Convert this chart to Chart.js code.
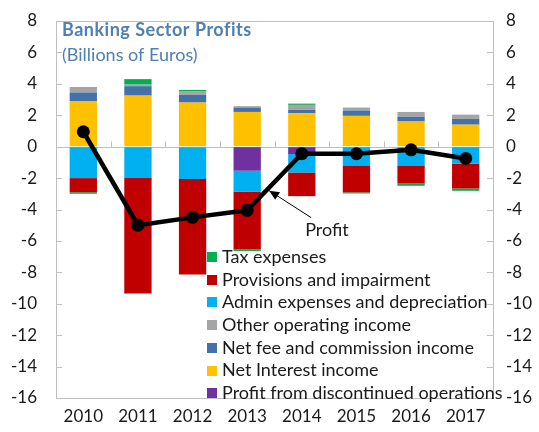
<!DOCTYPE html>
<html>
<head>
<meta charset="utf-8">
<script src="https://cdn.jsdelivr.net/npm/chart.js@4.4.1/dist/chart.umd.min.js"></script>
<style>
  html, body { margin: 0; padding: 0; background: #fff; }
  #wrap { position: relative; width: 539px; height: 432px; }
</style>
</head>
<body>
<div id="wrap"><canvas id="chart" width="539" height="432"></canvas></div>
<script>
// Banking sector profits, billions of euros
const years = ['2010', '2011', '2012', '2013', '2014', '2015', '2016', '2017'];
const netInterest = [2.9, 3.25, 2.81, 2.21, 2.13, 1.96, 1.6, 1.4];
const netFee = [0.55, 0.6, 0.49, 0.28, 0.21, 0.34, 0.31, 0.37];
const otherIncome = [0.35, 0.1, 0.21, 0.09, 0.32, 0.19, 0.3, 0.27];
const discontinued = [0, 0, 0, -1.53, -0.47, 0, 0, 0];
const adminExp = [-2.0, -2.0, -2.06, -1.32, -1.17, -1.19, -1.19, -1.08];
const provisions = [-0.9, -7.35, -6.08, -3.7, -1.51, -1.72, -1.15, -1.58];
const taxExp = [-0.1, 0.35, 0.1, -0.09, 0.08, -0.07, -0.15, -0.15];
const profit = [0.95, -5.0, -4.5, -4.05, -0.45, -0.45, -0.2, -0.75];
const yTicks = [8, 6, 4, 2, 0, -2, -4, -6, -8, -10, -12, -14, -16];

const FONT = 'Lato, "Open Sans", sans-serif';
const GRAY = '#bfbfbf';

// legend order as in the picture
const legendItems = [
  ['Tax expenses', '#00b050'],
  ['Provisions and impairment', '#c00000'],
  ['Admin expenses and depreciation', '#00b0f0'],
  ['Other operating income', '#a5a5a5'],
  ['Net fee and commission income', '#4472a8'],
  ['Net Interest income', '#ffc000'],
  ['Profit from discontinued operations', '#7030a0']
];

function bar(label, data, color) {
  return {
    type: 'bar', label: label, data: data, backgroundColor: color,
    stack: 'parts', order: 2, categoryPercentage: 1, barPercentage: 0.5
  };
}

// frame, zero line, inside ticks, title, legend, annotation
const decor = {
  id: 'decor',
  beforeDatasetsDraw(chart) {
    const ctx = chart.ctx, a = chart.chartArea;
    const x = chart.scales.x, y = chart.scales.y;
    ctx.save();
    ctx.strokeStyle = GRAY;
    ctx.lineWidth = 1;
    ctx.strokeRect(Math.round(a.left) + 0.5, Math.round(a.top) + 0.5,
      Math.round(a.right - a.left), Math.round(a.bottom - a.top));
    const y0 = Math.round(y.getPixelForValue(0)) + 0.5;
    ctx.beginPath();
    ctx.moveTo(a.left, y0); ctx.lineTo(a.right, y0);
    yTicks.forEach(v => {
      const py = Math.round(y.getPixelForValue(v)) + 0.5;
      ctx.moveTo(a.left, py); ctx.lineTo(a.left + 6, py);
      ctx.moveTo(a.right, py); ctx.lineTo(a.right - 6, py);
    });
    for (let i = 1; i < years.length; i++) {
      const px = Math.round((x.getPixelForValue(i - 1) + x.getPixelForValue(i)) / 2) + 0.5;
      ctx.moveTo(px, y0); ctx.lineTo(px, y0 - 6);
    }
    ctx.stroke();
    ctx.restore();
  },
  afterDraw(chart) {
    const ctx = chart.ctx, a = chart.chartArea;
    const x = chart.scales.x, y = chart.scales.y;
    ctx.save();
    ctx.textBaseline = 'middle';
    ctx.fillStyle = '#4f7fb3';
    ctx.font = 'bold 18px ' + FONT;
    ctx.letterSpacing = '0.5px';
    ctx.fillText('Banking Sector Profits', a.left + 6, 30);
    ctx.letterSpacing = '0px';
    ctx.font = '18px ' + FONT;
    ctx.fillText('(Billions of Euros)', a.left + 6, 55);

    // legend
    ctx.font = '18px ' + FONT;
    legendItems.forEach((it, i) => {
      const cy = 257 + i * 22.7;
      ctx.fillStyle = it[1];
      ctx.fillRect(207, Math.round(cy - 5), 10, 10);
      ctx.fillStyle = '#1a1a1a';
      ctx.fillText(it[0], 222, cy);
    });

    // "Profit" label with arrow to the line
    const tx = x.getPixelForValue(3) + 22, ty = y.getPixelForValue(-2.8);
    const sx = tx + 42, sy = ty + 27;
    ctx.strokeStyle = '#000';
    ctx.lineWidth = 1;
    ctx.beginPath();
    ctx.moveTo(sx, sy); ctx.lineTo(tx, ty);
    ctx.stroke();
    const ang = Math.atan2(ty - sy, tx - sx);
    ctx.fillStyle = '#000';
    ctx.beginPath();
    ctx.moveTo(tx, ty);
    ctx.lineTo(tx - 10 * Math.cos(ang) + 4.5 * Math.sin(ang), ty - 10 * Math.sin(ang) - 4.5 * Math.cos(ang));
    ctx.lineTo(tx - 10 * Math.cos(ang) - 4.5 * Math.sin(ang), ty - 10 * Math.sin(ang) + 4.5 * Math.cos(ang));
    ctx.closePath();
    ctx.fill();
    ctx.fillStyle = '#1a1a1a';
    ctx.fillText('Profit', sx - 6, sy + 13);
    ctx.restore();
  }
};

// invisible tick marks only used to push the labels away from the frame
function hiddenGrid(len) {
  return { display: true, drawOnChartArea: false, drawTicks: true, tickLength: len, color: 'rgba(0,0,0,0)' };
}

new Chart(document.getElementById('chart'), {
  data: {
    labels: years,
    datasets: [
      {
        type: 'line', label: 'Profit', data: profit, stack: 'profit', order: 0,
        borderColor: '#000', backgroundColor: '#000', borderWidth: 4.5,
        pointRadius: 6.5, pointBackgroundColor: '#000', pointBorderWidth: 0, tension: 0
      },
      bar('Net Interest income', netInterest, '#ffc000'),
      bar('Net fee and commission income', netFee, '#4472a8'),
      bar('Other operating income', otherIncome, '#a5a5a5'),
      bar('Profit from discontinued operations', discontinued, '#7030a0'),
      bar('Admin expenses and depreciation', adminExp, '#00b0f0'),
      bar('Provisions and impairment', provisions, '#c00000'),
      bar('Tax expenses', taxExp, '#00b050')
    ]
  },
  options: {
    responsive: false,
    animation: false,
    layout: { padding: { top: 21, bottom: 0, left: 0, right: 0 } },
    plugins: { legend: { display: false }, tooltip: { enabled: false } },
    scales: {
      x: {
        stacked: true,
        grid: { display: false },
        border: { display: false },
        ticks: { color: '#1a1a1a', font: { family: FONT, size: 17 }, padding: 0 },
        afterFit(s) { s.height = 34; }
      },
      y: {
        position: 'left', stacked: true, min: -16, max: 8,
        grid: hiddenGrid(15), border: { display: false },
        afterBuildTicks(s) { s.ticks = yTicks.map(v => ({ value: v })); },
        ticks: { color: '#1a1a1a', font: { family: FONT, size: 17 }, padding: 4 },
        afterFit(s) { s.width = 56; }
      },
      y2: {
        position: 'right', min: -16, max: 8,
        grid: hiddenGrid(9), border: { display: false },
        afterBuildTicks(s) { s.ticks = yTicks.map(v => ({ value: v })); },
        ticks: { color: '#1a1a1a', font: { family: FONT, size: 17 }, padding: 4 },
        afterFit(s) { s.width = 46; }
      }
    }
  },
  plugins: [decor]
});
</script>
</body>
</html>
